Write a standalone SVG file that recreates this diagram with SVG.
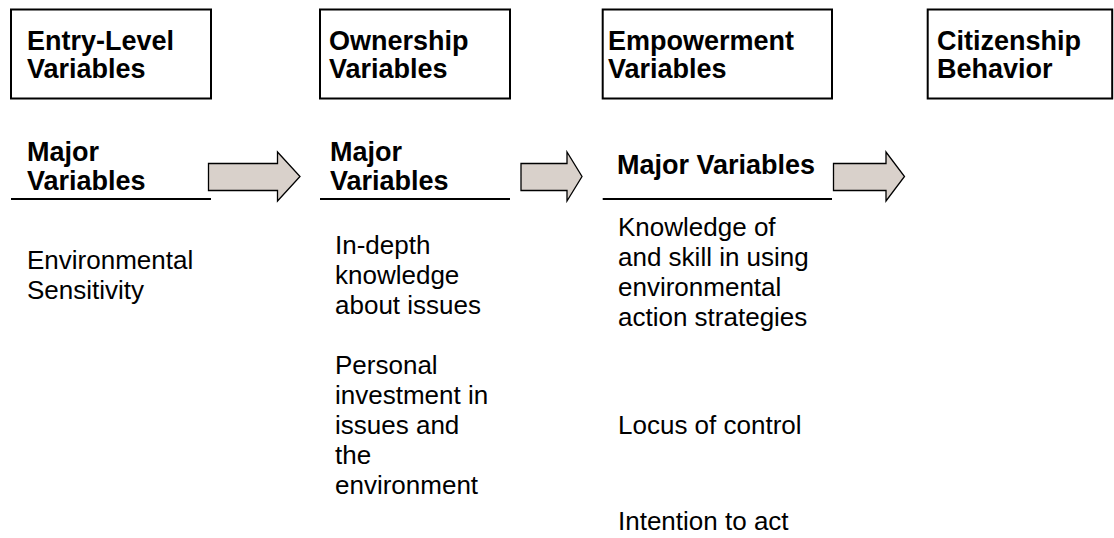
<svg xmlns="http://www.w3.org/2000/svg" width="1114" height="538" viewBox="0 0 1114 538">
<style>
.box{fill:#fff;stroke:#000;stroke-width:2}
.rule{stroke:#000;stroke-width:2}
.arrow{fill:#d9d1cb;stroke:#000;stroke-width:1.3;stroke-linejoin:miter}
text{font-family:"Liberation Sans",Arial,sans-serif;font-size:26px;fill:#000}
.b{font-weight:bold;font-size:27px}
</style>
<rect width="1114" height="538" fill="#fff"/>
<g id="node-entry">
<rect class="box" x="11" y="9.5" width="200" height="89"/>
<text class="b" x="27" y="50">Entry-Level</text>
<text class="b" x="27" y="78">Variables</text>
</g>
<g id="node-ownership">
<rect class="box" x="320" y="9.5" width="190" height="89"/>
<text class="b" x="329" y="50">Ownership</text>
<text class="b" x="329" y="78">Variables</text>
</g>
<g id="node-empowerment">
<rect class="box" x="602.7" y="9.5" width="229.3" height="89"/>
<text class="b" x="608" y="50">Empowerment</text>
<text class="b" x="608" y="78">Variables</text>
</g>
<g id="node-citizenship">
<rect class="box" x="927.7" y="9.5" width="184.5" height="89"/>
<text class="b" x="937" y="50">Citizenship</text>
<text class="b" x="937" y="78">Behavior</text>
</g>
<g id="col-entry">
<text class="b" x="27" y="161">Major</text>
<text class="b" x="27" y="190">Variables</text>
<line class="rule" x1="11" y1="199" x2="211" y2="199"/>
<text x="27" y="268.5">Environmental</text>
<text x="27" y="298.5">Sensitivity</text>
</g>
<g id="col-ownership">
<text class="b" x="330" y="161">Major</text>
<text class="b" x="330" y="190">Variables</text>
<line class="rule" x1="320" y1="199" x2="510" y2="199"/>
<text x="335" y="253.5">In-depth</text>
<text x="335" y="283.5">knowledge</text>
<text x="335" y="313.5">about issues</text>
<text x="335" y="374">Personal</text>
<text x="335" y="404">investment in</text>
<text x="335" y="434">issues and</text>
<text x="335" y="464">the</text>
<text x="335" y="494">environment</text>
</g>
<g id="col-empowerment">
<text class="b" x="617" y="173.5">Major Variables</text>
<line class="rule" x1="602.7" y1="199" x2="832" y2="199"/>
<text x="618" y="236">Knowledge of</text>
<text x="618" y="266">and skill in using</text>
<text x="618" y="296">environmental</text>
<text x="618" y="326">action strategies</text>
<text x="618" y="434">Locus of control</text>
<text x="618" y="530">Intention to act</text>
</g>
<g id="connectors">
<path class="arrow" d="M208.5,163.5 H277.5 V152 L300,176.5 L277.5,201 V190.5 H208.5 Z"/>
<path class="arrow" d="M521,163.5 H567 V152 L582,176.5 L567,201 V190.5 H521 Z"/>
<path class="arrow" d="M833.5,163.5 H886 V152 L904.5,176.5 L886,201 V190.5 H833.5 Z"/>
</g>
</svg>
